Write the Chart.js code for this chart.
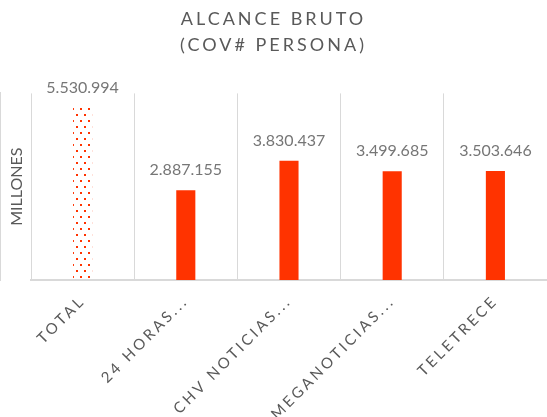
<!DOCTYPE html>
<html lang="es">
<head>
    <meta charset="UTF-8">
    <title>Alcance bruto</title>
    <script src="https://cdn.jsdelivr.net/npm/chart.js"></script>
    <style>
        html, body {
            margin: 0;
            padding: 0;
            background: #ffffff;
        }
        .chart-container {
            position: relative;
            width: 547px;
            height: 417px;
        }
    </style>
</head>
<body>
    <div class="chart-container">
        <canvas id="alcanceChart"></canvas>
    </div>

    <script>
        const categories = ['TOTAL', '24 HORAS...', 'CHV NOTICIAS...', 'MEGANOTICIAS...', 'TELETRECE'];
        const alcance = [5530994, 2887155, 3830437, 3499685, 3503646];
        const titleLines = ['ALCANCE BRUTO', '(COV# PERSONA)'];
        const yTitle = 'MILLONES';
        const yMax = 6000000;

        const barColor = '#ff3300';
        const textColor = '#595959';

        // 5530994 -> "5.530.994"
        function formatMiles(v) {
            return String(v).replace(/\B(?=(\d{3})+(?!\d))/g, '.');
        }

        // dotted fill used for the TOTAL bar
        function dotPattern(color) {
            const c = document.createElement('canvas');
            c.width = 8;
            c.height = 12;
            const g = c.getContext('2d');
            g.fillStyle = color;
            g.fillRect(0, 0, 2, 2);
            g.fillRect(4, 6, 2, 2);
            return g.createPattern(c, 'repeat');
        }

        // title and x labels are letter-spaced, the rest is not
        const spacingPlugin = {
            id: 'spacing',
            beforeDraw(chart) {
                chart.ctx.letterSpacing = '3px';
            },
            afterDatasetsDraw(chart) {
                chart.ctx.letterSpacing = '0px';
            }
        };

        const valueLabels = {
            id: 'valueLabels',
            afterDatasetsDraw(chart) {
                const ctx = chart.ctx;
                ctx.save();
                ctx.letterSpacing = '0px';
                ctx.font = '16px Lato';
                ctx.fillStyle = '#767676';
                ctx.textAlign = 'center';
                ctx.textBaseline = 'alphabetic';
                chart.getDatasetMeta(0).data.forEach((bar, i) => {
                    ctx.fillText(formatMiles(alcance[i]), bar.x, bar.y - 15);
                });
                ctx.restore();
            }
        };

        const pattern = dotPattern(barColor);

        new Chart(document.getElementById('alcanceChart'), {
            type: 'bar',
            data: {
                labels: categories,
                datasets: [{
                    data: alcance,
                    backgroundColor: alcance.map((v, i) => i === 0 ? pattern : barColor),
                    borderWidth: 0,
                    barPercentage: 0.185,
                    categoryPercentage: 1
                }]
            },
            options: {
                responsive: true,
                maintainAspectRatio: false,
                animation: false,
                devicePixelRatio: 1,
                layout: { padding: 0 },
                plugins: {
                    legend: { display: false },
                    tooltip: { enabled: false },
                    title: {
                        display: true,
                        text: titleLines,
                        color: textColor,
                        font: { family: 'Lato', size: 18, weight: 'normal', lineHeight: 1.4 },
                        padding: { top: 7, bottom: 36 }
                    }
                },
                scales: {
                    x: {
                        afterFit(scale) { scale.height = 137; },
                        grid: {
                            color: '#d9d9d9',
                            lineWidth: 1,
                            drawTicks: false
                        },
                        border: { color: '#d9d9d9', width: 2 },
                        ticks: {
                            color: textColor,
                            font: { family: 'Lato', size: 15 },
                            autoSkip: false,
                            maxRotation: 45,
                            minRotation: 45,
                            padding: 12
                        }
                    },
                    y: {
                        min: 0,
                        max: yMax,
                        afterFit(scale) { scale.width = 31; },
                        grid: { display: false, z: 1 },
                        border: { display: true, color: '#d9d9d9', width: 2 },
                        ticks: { display: false },
                        title: {
                            display: true,
                            text: yTitle,
                            color: textColor,
                            font: { family: 'Lato', size: 16 },
                            padding: { top: 7, bottom: 0 }
                        }
                    }
                }
            },
            plugins: [spacingPlugin, valueLabels]
        });
    </script>
</body>
</html>
